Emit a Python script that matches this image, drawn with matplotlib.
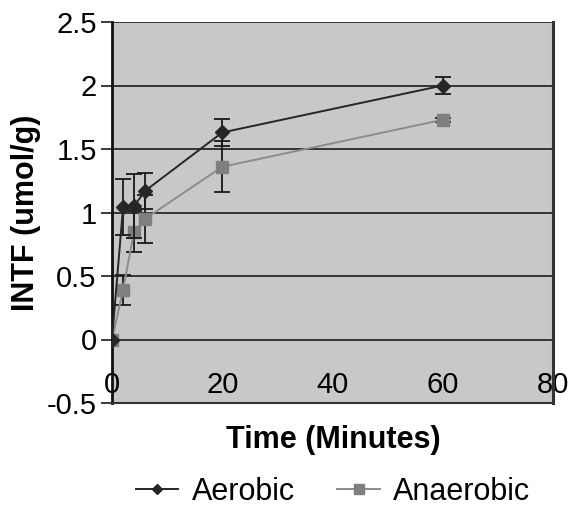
import matplotlib
matplotlib.use("Agg")
import matplotlib.pyplot as plt

time = [0, 2, 4, 6, 20, 60]
aerobic = [0, 1.04, 1.05, 1.17, 1.63, 2.00]
aerobic_err = [0, 0.22, 0.25, 0.14, 0.11, 0.07]
anaerobic = [0, 0.39, 0.85, 0.95, 1.36, 1.73]
anaerobic_err = [0, 0.12, 0.16, 0.19, 0.20, 0.015]
yticks = [-0.5, 0, 0.5, 1, 1.5, 2, 2.5]
xticks = [0, 20, 40, 60, 80]

plt.rcParams['font.family'] = ['Liberation Sans', 'DejaVu Sans']

fig = plt.figure(figsize=(5.69, 5.12), dpi=100)
ax = fig.add_axes([112/569, 109/512, 441/569, 381/512])
ax.set_facecolor('#c8c8ca')

for y in yticks:
    ax.axhline(y, color='#1a1a1a', lw=1.2, zorder=1)

ax.errorbar(time, aerobic, yerr=aerobic_err, color='#262626', lw=1.4,
            marker='D', ms=7, mfc='#262626', mec='#262626',
            ecolor='#1a1a1a', elinewidth=1.3, capsize=6, capthick=1.3,
            label='Aerobic', zorder=4)
ax.errorbar(time, anaerobic, yerr=anaerobic_err, color='#8c8c8c', lw=1.4,
            marker='s', ms=9, mfc='#7f7f7f', mec='#7f7f7f',
            ecolor='#1a1a1a', elinewidth=1.3, capsize=6, capthick=1.3,
            label='Anaerobic', zorder=3)

ax.set_xlim(0, 80)
ax.set_ylim(-0.5, 2.5)
ax.set_yticks(yticks)
ax.set_yticklabels(['-0.5', '0', '0.5', '1', '1.5', '2', '2.5'])
ax.set_xticks(xticks)
ax.set_xticklabels([str(v) for v in xticks])
ax.tick_params(axis='y', labelsize=21, length=8, width=1.2, pad=3, color='#1a1a1a')
ax.tick_params(axis='x', labelsize=21, length=0, pad=-23)

ax.spines['top'].set_visible(False)
ax.spines['left'].set_linewidth(2)
ax.spines['left'].set_color('#111111')
ax.spines['right'].set_linewidth(2.2)
ax.spines['right'].set_color('#333333')
ax.spines['bottom'].set_linewidth(1.5)
ax.spines['bottom'].set_color('#333333')

ax.set_ylabel('INTF (umol/g)', fontsize=22, fontweight='bold', labelpad=4)
fig.text(333/569, 1 - 440/512, 'Time (Minutes)', fontsize=22, fontweight='bold',
         ha='center', va='center')

handles, labels = ax.get_legend_handles_labels()
handles = [h[0] for h in handles]
fig.legend(handles, labels, loc='center', bbox_to_anchor=(333/569, 1 - 492/512),
           ncol=2, frameon=False, fontsize=22, handlelength=1.4,
           columnspacing=1.4, handletextpad=0.43, markerscale=0.8)

fig.savefig('out.png', dpi=100)
